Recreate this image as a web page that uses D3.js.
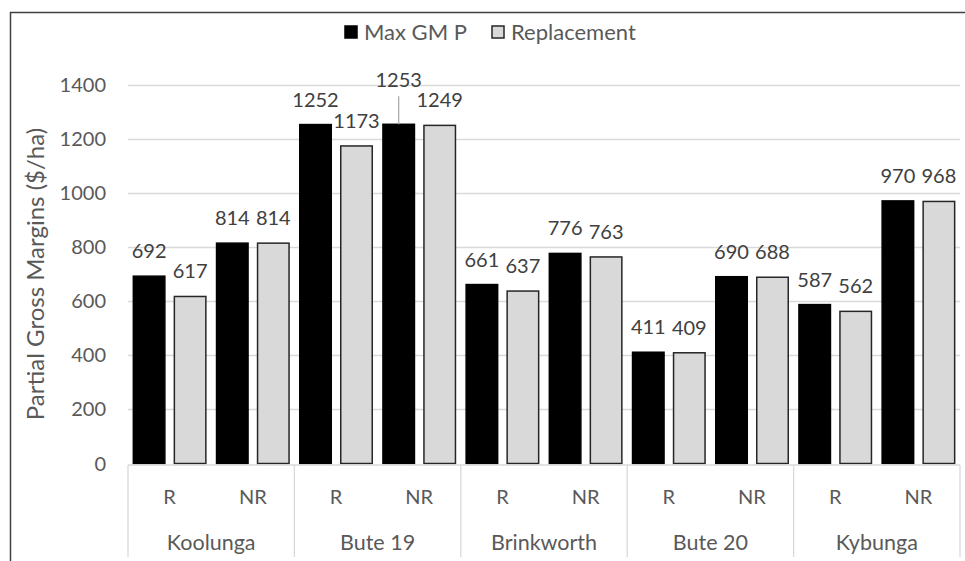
<!DOCTYPE html>
<html>
<head>
<meta charset="utf-8">
<script src="https://cdn.jsdelivr.net/npm/d3@7"></script>
<style>
  html, body { margin: 0; padding: 0; background: #fff; }
  svg { display: block; font-family: Lato, "Open Sans", sans-serif; }
</style>
</head>
<body>
<svg id="chart" width="965" height="561"></svg>
<script>
// ---- data ----
const sites = ["Koolunga", "Bute 19", "Brinkworth", "Bute 20", "Kybunga"];
const treatments = ["R", "NR"];
const seriesNames = ["Max GM P", "Replacement"];
const maxGMP = [692, 814, 1252, 1253, 661, 776, 411, 690, 587, 970];
const replacement = [617, 814, 1173, 1249, 637, 763, 409, 688, 562, 968];
const yTicks = [0, 200, 400, 600, 800, 1000, 1200, 1400];

// ---- build rows ----
const rows = [];
sites.forEach((s, si) => {
  treatments.forEach((t, ti) => {
    const idx = si * 2 + ti;
    rows.push({ site: s, treat: t, values: [maxGMP[idx], replacement[idx]] });
  });
});

const svg = d3.select("#chart");
const plot = { left: 128, right: 960, top: 84.5, bottom: 463.5 };

// outer border
svg.append("rect")
  .attr("x", 10.5).attr("y", 12.5)
  .attr("width", 980).attr("height", 600)
  .attr("fill", "none").attr("stroke", "#404040").attr("stroke-width", 1.5);

const y = d3.scaleLinear().domain([0, 1400]).range([plot.bottom, plot.top]);
const xSite = d3.scaleBand().domain(sites).range([plot.left, plot.right]).padding(0);
const xTreat = d3.scaleBand().domain(treatments).range([0, xSite.bandwidth()]).padding(0);
const xSeries = d3.scaleBand().domain(seriesNames).range([0, xTreat.bandwidth()])
  .paddingInner(0.195).paddingOuter(0.112);

// gridlines
svg.append("g").selectAll("line").data(yTicks.filter(d => d > 0)).join("line")
  .attr("x1", plot.left).attr("x2", plot.right)
  .attr("y1", d => Math.round(y(d)) + 0.5).attr("y2", d => Math.round(y(d)) + 0.5)
  .attr("stroke", "#d9d9d9").attr("stroke-width", 1.3);

// y tick labels
svg.append("g").selectAll("text").data(yTicks).join("text")
  .attr("x", 106).attr("y", d => y(d)).attr("dy", "0.35em")
  .attr("text-anchor", "end").attr("fill", "#595959")
  .attr("font-size", 20).text(d => d);

// y axis title
svg.append("text")
  .attr("transform", `translate(44,${(plot.top + plot.bottom) / 2}) rotate(-90)`)
  .attr("text-anchor", "middle").attr("fill", "#595959").attr("font-size", 24)
  .text("Partial Gross Margins ($/ha)");

// bars
const fills = ["#000000", "#d9d9d9"];
const strokes = ["#000000", "#262626"];
const groups = svg.append("g").selectAll("g").data(rows).join("g")
  .attr("transform", d => `translate(${xSite(d.site) + xTreat(d.treat)},0)`);

groups.selectAll("rect").data(d => d.values.map((v, i) => ({ v, i })))
  .join("rect")
  .attr("x", d => xSeries(seriesNames[d.i]) + 0.75)
  .attr("width", xSeries.bandwidth() - 1.5)
  .attr("y", d => y(d.v))
  .attr("height", d => y(0) - y(d.v))
  .attr("fill", d => fills[d.i])
  .attr("stroke", d => strokes[d.i])
  .attr("stroke-width", 1.5);

// data labels
groups.each(function (row) {
  const g = d3.select(this);
  row.values.forEach((v, i) => {
    const cx = xSeries(seriesNames[i]) + xSeries.bandwidth() / 2;
    let by = y(v) - 18;
    // displaced label (with leader) for Bute 19 NR Max GM P
    if (row.site === "Bute 19" && row.treat === "NR" && i === 0) {
      by = y(v) - 37;
      g.append("line")
        .attr("x1", cx).attr("x2", cx)
        .attr("y1", by + 9).attr("y2", y(v))
        .attr("stroke", "#a6a6a6").attr("stroke-width", 1.2);
    }
    g.append("text")
      .attr("x", cx).attr("y", by)
      .attr("text-anchor", "middle").attr("fill", "#404040")
      .attr("font-size", 20).text(v);
  });
});

// category axis
const axisG = svg.append("g");
axisG.append("line")
  .attr("x1", plot.left).attr("x2", plot.right)
  .attr("y1", plot.bottom + 1.5).attr("y2", plot.bottom + 1.5)
  .attr("stroke", "#d9d9d9").attr("stroke-width", 1.3);
const seps = sites.map(s => xSite(s)).concat([plot.right]);
axisG.selectAll("line.sep").data(seps).join("line").attr("class", "sep")
  .attr("x1", d => d).attr("x2", d => d)
  .attr("y1", plot.bottom + 1.5).attr("y2", 557)
  .attr("stroke", "#d9d9d9").attr("stroke-width", 1.3);

axisG.selectAll("text.treat").data(rows).join("text").attr("class", "treat")
  .attr("x", d => xSite(d.site) + xTreat(d.treat) + xTreat.bandwidth() / 2)
  .attr("y", 497).attr("dy", "0.35em")
  .attr("text-anchor", "middle").attr("fill", "#595959").attr("font-size", 20)
  .text(d => d.treat);

axisG.selectAll("text.site").data(sites).join("text").attr("class", "site")
  .attr("x", d => xSite(d) + xSite.bandwidth() / 2)
  .attr("y", 542).attr("dy", "0.35em")
  .attr("text-anchor", "middle").attr("fill", "#595959").attr("font-size", 21.5)
  .text(d => d);

// legend
const legend = svg.append("g");
const legendItems = [
  { name: seriesNames[0], x: 345, fill: fills[0], stroke: strokes[0] },
  { name: seriesNames[1], x: 492, fill: fills[1], stroke: strokes[1] }
];
legendItems.forEach(it => {
  legend.append("rect").attr("x", it.x).attr("y", 26).attr("width", 12).attr("height", 12)
    .attr("fill", it.fill).attr("stroke", it.stroke).attr("stroke-width", 1.5);
  legend.append("text").attr("x", it.x + 19).attr("y", 32).attr("dy", "0.35em")
    .attr("fill", "#595959").attr("font-size", 22).text(it.name);
});
</script>
</body>
</html>
